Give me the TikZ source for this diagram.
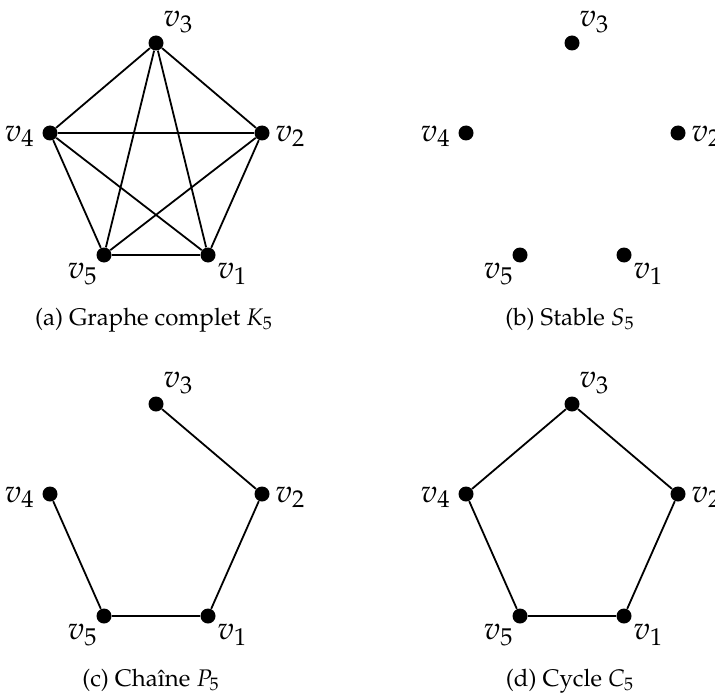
\documentclass[tikz,border=0pt]{standalone}
\usepackage[T1]{fontenc}
\usepackage{mathpazo}
\usetikzlibrary{calc}
\newcommand\pentvertices[3]{%
  \node[vtx] (#11) at (208+#2,255+#3) {};
  \node[vtx] (#12) at (262+#2,133+#3) {};
  \node[vtx] (#13) at (156+#2,43+#3) {};
  \node[vtx] (#14) at (50+#2,133+#3) {};
  \node[vtx] (#15) at (104+#2,255+#3) {};
  \node[lbl,anchor=north west] (#1l1) at ($(#11)+(9,8)$) {$v_1$};
  \node[lbl,anchor=base west] (#1l2) at ($(#12)+(13,8)$) {$v_2$};
  \node[lbl,anchor=south west] (#1l3) at ($(#13)+(7,-10)$) {$v_3$};
  \node[lbl,anchor=base east] (#1l4) at ($(#14)+(-15,8)$) {$v_4$};
  \node[lbl,anchor=north east] (#1l5) at ($(#15)+(-6,8)$) {$v_5$};
}
\begin{document}
\begin{tikzpicture}[x=0.5pt,y=-0.5pt,
  vtx/.style={circle,fill=black,inner sep=0pt,minimum size=7.5pt},
  edge/.style={line width=0.9pt},
  lbl/.style={inner sep=0pt,font=\fontsize{16}{18}\selectfont},
  captext/.style={inner sep=0pt,anchor=base,font=\fontsize{12}{14}\selectfont}]
\useasboundingbox (0,0) rectangle (715,695);
% (a) complete graph
\pentvertices{a}{0}{0}
\draw[edge] (a1) -- (a2) (a1) -- (a3) (a1) -- (a4) (a1) -- (a5)
            (a2) -- (a3) (a2) -- (a4) (a2) -- (a5)
            (a3) -- (a4) (a3) -- (a5) (a4) -- (a5);
% (b) stable
\pentvertices{b}{416}{0}
% (c) chain
\pentvertices{c}{0}{361}
\draw[edge] (c3) -- (c2) -- (c1) -- (c5) -- (c4);
% (d) cycle
\pentvertices{d}{416}{361}
\draw[edge] (d1) -- (d2) -- (d3) -- (d4) -- (d5) -- (d1);
% captions
\node[captext] (capa) at (154,325) {(a) Graphe complet $K_5$};
\node[captext] (capb) at (570,325) {(b) Stable $S_5$};
\node[captext] (capc) at (151,686) {(c) Cha\^{\i}ne $P_5$};
\node[captext] (capd) at (570,686) {(d) Cycle $C_5$};
\end{tikzpicture}
\end{document}
